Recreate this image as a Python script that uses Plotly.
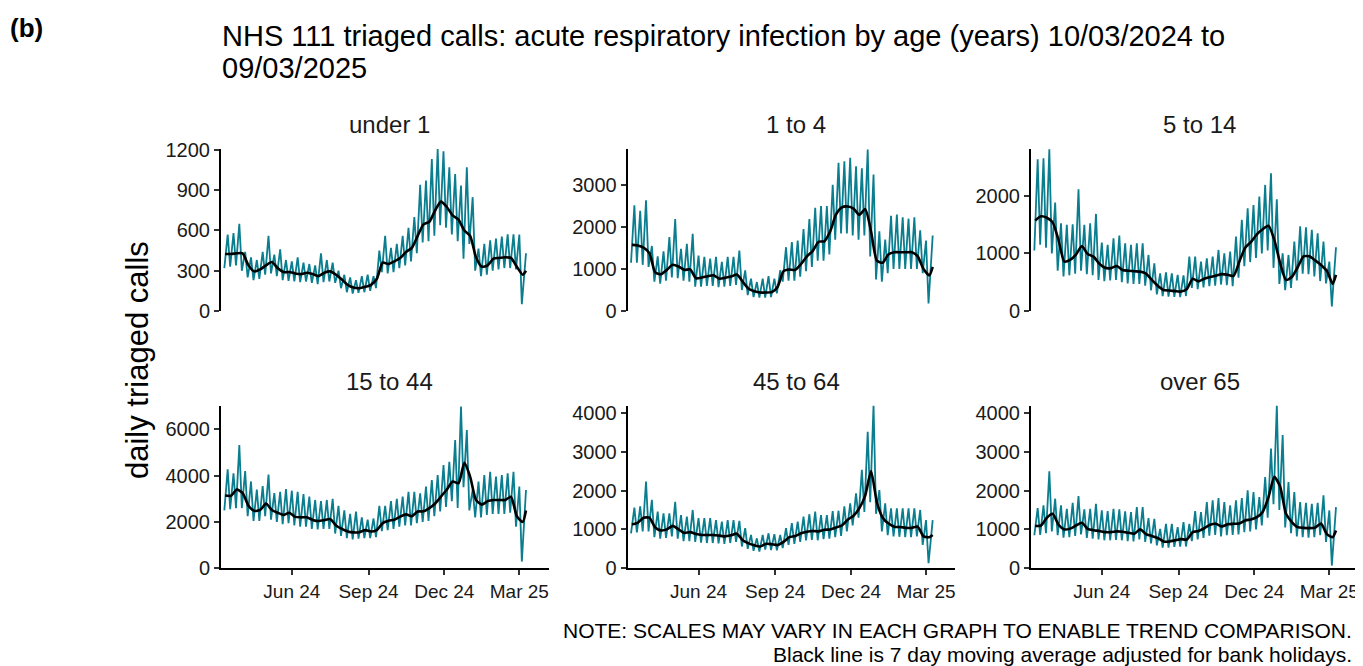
import pandas as pd
import plotly.graph_objects as go

# ---------------- data (weekly readings, week k starts on Sunday 10/03/2024 + 7k days) ----
panel_names = ["under 1", "1 to 4", "5 to 14", "15 to 44", "45 to 64", "over 65"]
first_week = "2024-03-10"
last_day = "2025-03-09"

# weekly peak (weekend) values of the daily series
under1_high = [570, 580, 650, 440, 400, 380, 440, 560, 420, 460, 380, 370, 400, 360, 350, 340, 430, 380, 360, 300,
               270, 250, 230, 260, 270, 260, 450, 560, 470, 500, 560, 620, 700, 940, 972, 1133, 1207, 1190, 1071, 1021,
               935, 1070, 848, 465, 500, 527, 540, 555, 571, 571, 570, 380]
age1_4_high = [2520, 2390, 2640, 1550, 1300, 1420, 1760, 2190, 1480, 1600, 1840, 1320, 1290, 1250, 1290, 1170, 1290, 1290, 1440, 970,
               770, 690, 770, 830, 770, 970, 1520, 1640, 1680, 1950, 2190, 2460, 2500, 2500, 3010, 3530, 3570, 3650, 3450, 3400,
               3850, 3250, 1900, 1700, 2270, 2300, 2230, 2200, 2230, 1920, 1680, 1300]
age5_14_high = [2638, 2655, 2811, 1884, 1525, 1496, 1507, 2116, 1496, 1525, 1687, 1188, 1148, 1264, 1310, 1177, 1150, 1177, 1177, 974,
                829, 655, 672, 655, 626, 620, 945, 945, 858, 916, 945, 1061, 1003, 1032, 1293, 1583, 1786, 1843, 1988, 2191,
                2394, 1942, 1003, 974, 1205, 1470, 1455, 1410, 1350, 1205, 858, 900]
age15_44_high = [4270, 4100, 5320, 4200, 3750, 3400, 3550, 4050, 3250, 3300, 3420, 3350, 3300, 3200, 3100, 2950, 2900, 2950, 3000, 2700,
                 2500, 2350, 2450, 2200, 2100, 2150, 2700, 2700, 2900, 3000, 3100, 3300, 3300, 3240, 3530, 3810, 4030, 4460, 4600, 5540,
                 6980, 5970, 3400, 3740, 4030, 4170, 3960, 4030, 4100, 4170, 3530, 3000]
age45_64_high = [1560, 1590, 2230, 1760, 1460, 1410, 1410, 1710, 1370, 1330, 1500, 1290, 1290, 1290, 1240, 1200, 1240, 1240, 1220, 1030,
                 860, 770, 860, 900, 880, 860, 1030, 1160, 1200, 1330, 1390, 1460, 1370, 1370, 1470, 1480, 1590, 1670, 1930, 2530,
                 3510, 4200, 2010, 1670, 1540, 1540, 1540, 1540, 1540, 1500, 1240, 1100]
over65_high = [1548, 1617, 2495, 1789, 1617, 1531, 1686, 1858, 1514, 1531, 1660, 1488, 1471, 1531, 1514, 1462, 1445, 1574, 1574, 1290,
               1273, 1015, 1144, 1144, 1058, 1187, 1144, 1471, 1445, 1703, 1746, 1806, 1703, 1617, 1746, 1806, 2004, 1961, 1832, 2348,
               3080, 4198, 3424, 2219, 1961, 1703, 1686, 1660, 1686, 1875, 1488, 1300]

# weekly trough (weekday) values of the daily series
under1_low = [320, 330, 340, 300, 250, 230, 240, 270, 280, 260, 230, 225, 220, 215, 220, 210, 200, 215, 220, 210,
              170, 140, 130, 135, 140, 150, 170, 290, 280, 290, 320, 340, 370, 430, 510, 520, 560, 640, 620, 570,
              520, 390, 500, 300, 260, 270, 300, 310, 320, 320, 310, 50]
age1_4_low = [1150, 1150, 1100, 1050, 700, 650, 720, 800, 780, 720, 700, 580, 580, 600, 600, 570, 580, 600, 620, 500,
              380, 330, 320, 320, 330, 420, 700, 720, 720, 820, 950, 1050, 1200, 1200, 1350, 1700, 1850, 1850, 1800, 1700,
              1800, 1300, 750, 700, 900, 1000, 1000, 1000, 1000, 1000, 900, 180]
age5_14_low = [1050, 1150, 1100, 1000, 700, 600, 620, 650, 700, 640, 620, 540, 520, 530, 540, 500, 480, 470, 470, 440,
               360, 290, 260, 250, 245, 240, 260, 400, 380, 410, 430, 440, 460, 450, 430, 580, 780, 850, 920, 1000,
               1050, 750, 470, 360, 400, 530, 650, 640, 600, 520, 480, 80]
age15_44_low = [2500, 2550, 2600, 2600, 2250, 2050, 2050, 2250, 2100, 2000, 1900, 1950, 1850, 1800, 1800, 1700, 1680, 1700, 1700, 1500,
                1400, 1300, 1250, 1280, 1300, 1300, 1350, 1600, 1650, 1700, 1800, 1850, 1850, 1950, 2000, 2050, 2250, 2450, 2650, 2900,
                2600, 3500, 2500, 2200, 2200, 2300, 2350, 2350, 2350, 2400, 1800, 290]
age45_64_low = [900, 920, 950, 950, 800, 760, 780, 820, 760, 700, 700, 680, 660, 650, 650, 640, 630, 650, 680, 560,
                500, 450, 430, 480, 470, 460, 520, 600, 630, 680, 720, 730, 720, 750, 760, 800, 830, 950, 1100, 1300,
                1450, 1700, 1400, 950, 850, 820, 810, 800, 800, 820, 600, 130]
over65_low = [850, 860, 900, 950, 850, 790, 800, 830, 870, 780, 760, 740, 720, 720, 730, 720, 700, 690, 740, 680,
              640, 590, 530, 530, 550, 560, 560, 700, 740, 780, 840, 860, 820, 850, 860, 870, 930, 950, 1000, 1100,
              1300, 1650, 1500, 1050, 900, 820, 800, 790, 800, 850, 680, 70]

# 7 day moving average (black line), read once per week
under1_avg = [425, 425, 430, 430, 340, 295, 310, 340, 365, 320, 290, 290, 280, 275, 285, 275, 260, 285, 295, 270,
              235, 195, 175, 170, 180, 195, 240, 360, 350, 370, 395, 440, 470, 560, 645, 665, 750, 815, 775, 712,
              680, 600, 560, 400, 330, 340, 390, 395, 400, 395, 330, 270]
age1_4_avg = [1575, 1560, 1510, 1380, 920, 875, 980, 1100, 1060, 980, 990, 780, 800, 830, 850, 770, 790, 820, 870, 700,
              530, 470, 440, 440, 450, 580, 950, 990, 980, 1120, 1300, 1430, 1650, 1660, 1900, 2300, 2470, 2490, 2440, 2290,
              2430, 1900, 1200, 1150, 1350, 1400, 1400, 1400, 1400, 1300, 1000, 850]
age5_14_avg = [1570, 1645, 1620, 1540, 1235, 860, 890, 980, 1130, 990, 945, 820, 750, 745, 783, 713, 700, 690, 684, 650,
               540, 440, 365, 355, 345, 338, 380, 560, 515, 560, 590, 615, 640, 630, 609, 858, 1100, 1200, 1330, 1420,
               1480, 1235, 829, 539, 590, 760, 950, 950, 880, 800, 700, 470]
age15_44_avg = [3140, 3130, 3400, 3250, 2700, 2480, 2520, 2800, 2520, 2400, 2300, 2400, 2220, 2200, 2200, 2090, 2040, 2080, 2130, 1850,
                1700, 1590, 1550, 1560, 1650, 1590, 1650, 1950, 2050, 2100, 2230, 2330, 2250, 2450, 2460, 2600, 2800, 3100, 3400, 3750,
                3670, 4550, 3950, 2950, 2750, 2900, 2950, 2950, 2950, 3090, 2250, 2000]
age45_64_avg = [1130, 1170, 1300, 1300, 1050, 975, 1000, 1090, 1000, 910, 930, 880, 857, 857, 857, 840, 820, 850, 890, 720,
                640, 590, 560, 630, 620, 600, 680, 800, 830, 900, 940, 960, 950, 990, 1000, 1050, 1100, 1250, 1350, 1550,
                1870, 2500, 1700, 1300, 1150, 1070, 1060, 1040, 1040, 1070, 820, 800]
over65_avg = [1090, 1100, 1300, 1400, 1120, 1000, 1020, 1100, 1170, 1015, 980, 960, 929, 929, 950, 940, 912, 890, 1000, 880,
              830, 780, 690, 690, 720, 750, 740, 930, 960, 1030, 1118, 1144, 1075, 1130, 1144, 1150, 1230, 1256, 1316, 1450,
              1830, 2350, 2100, 1400, 1190, 1060, 1040, 1032, 1045, 1150, 880, 800]

# value on the final day (09/03/2025)
last_day_calls = [430, 1800, 1107, 3380, 1240, 1574]
last_day_avg = [300, 1050, 626, 2500, 855, 970]

# y axis maxima and ticks per panel
y_max = [1207, 3860, 2815, 7020, 4180, 4180]
y_ticks = [[0, 300, 600, 900, 1200], [0, 1000, 2000, 3000], [0, 1000, 2000],
           [0, 2000, 4000, 6000], [0, 1000, 2000, 3000, 4000], [0, 1000, 2000, 3000, 4000]]
x_tick_dates = ["2024-06-01", "2024-09-01", "2024-12-01", "2025-03-01"]
x_tick_labels = ["Jun 24", "Sep 24", "Dec 24", "Mar 25"]

highs = [under1_high, age1_4_high, age5_14_high, age15_44_high, age45_64_high, over65_high]
lows = [under1_low, age1_4_low, age5_14_low, age15_44_low, age45_64_low, over65_low]
avgs = [under1_avg, age1_4_avg, age5_14_avg, age15_44_avg, age45_64_avg, over65_avg]

# ---------------- layout geometry (screen pixels) ----------------
W, H = 1363, 666
OFF = 8  # page body margin offset of the plot div
TEAL = "#0a7d8f"
FONT = "Liberation Sans, Arial, sans-serif"
col_px = [(221, 548.5), (627.7, 955.2), (1031, 1358.5)]
row_px = [(149, 311), (405.7, 568.3)]


def px_x(p):
    return (p - OFF) / W


def px_y(p):
    return 1 - (p - OFF) / H


week_starts = pd.date_range(first_week, periods=52, freq="7D")
low_dates = week_starts + pd.Timedelta(days=2)
high_dates = week_starts + pd.Timedelta(days=6)
avg_dates = week_starts + pd.Timedelta(days=3)
end_date = pd.Timestamp(last_day)

fig = go.Figure()
layout = {}
annotations = []

for i in range(6):
    r, c = divmod(i, 3)
    n = i + 1
    xa = "x" if n == 1 else f"x{n}"
    ya = "y" if n == 1 else f"y{n}"

    tx, ty = [], []
    for k in range(52):
        tx += [low_dates[k], high_dates[k]]
        ty += [lows[i][k], highs[i][k]]
    tx.append(end_date)
    ty.append(last_day_calls[i])
    fig.add_trace(go.Scatter(x=tx, y=ty, mode="lines", line=dict(color=TEAL, width=1.8),
                             xaxis=xa, yaxis=ya, showlegend=False, hoverinfo="skip", cliponaxis=False))
    bx = list(avg_dates) + [end_date]
    by = list(avgs[i]) + [last_day_avg[i]]
    fig.add_trace(go.Scatter(x=bx, y=by, mode="lines", line=dict(color="black", width=2.6, shape="spline",
                                                                   smoothing=0.6),
                             xaxis=xa, yaxis=ya, showlegend=False, hoverinfo="skip", cliponaxis=False))

    x0, x1 = col_px[c]
    y0, y1 = row_px[r]
    xkey = "xaxis" if n == 1 else f"xaxis{n}"
    ykey = "yaxis" if n == 1 else f"yaxis{n}"
    bottom = r == 1
    layout[xkey] = dict(
        domain=[px_x(x0), px_x(x1)], anchor=ya, type="date",
        range=["2024-03-08", "2025-04-05"],
        showgrid=False, zeroline=False,
        showline=bottom, linecolor="black", linewidth=2,
        ticks="outside" if bottom else "", ticklen=5, tickwidth=1.5, tickcolor="#333",
        tickvals=x_tick_dates if bottom else [], ticktext=x_tick_labels if bottom else [],
        showticklabels=bottom, tickfont=dict(family=FONT, size=19, color="#1a1a1a"),
    )
    layout[ykey] = dict(
        domain=[px_y(y1), px_y(y0)], anchor=xa, range=[0, y_max[i]],
        showgrid=False, zeroline=False, showline=True, linecolor="black", linewidth=2,
        ticks="outside", ticklen=5, tickwidth=1.5, tickcolor="#333",
        tickvals=y_ticks[i], tickfont=dict(family=FONT, size=20, color="#1a1a1a"),
    )
    annotations.append(dict(text=panel_names[i], x=px_x((x0 + x1) / 2 + 5), y=px_y(y0 - 24),
                            xref="paper", yref="paper", showarrow=False, xanchor="center", yanchor="middle",
                            font=dict(family=FONT, size=24, color="#1a1a1a")))

annotations += [
    dict(text="<b>(b)</b>", x=px_x(8), y=px_y(28), xref="paper", yref="paper", showarrow=False,
         xanchor="left", yanchor="middle", font=dict(family=FONT, size=26, color="black")),
    dict(text="NHS 111 triaged calls: acute respiratory infection by age (years) 10/03/2024 to",
         x=px_x(220), y=px_y(36), xref="paper", yref="paper", showarrow=False, align="left",
         xanchor="left", yanchor="middle", font=dict(family=FONT, size=29, color="black")),
    dict(text="09/03/2025",
         x=px_x(220), y=px_y(68), xref="paper", yref="paper", showarrow=False, align="left",
         xanchor="left", yanchor="middle", font=dict(family=FONT, size=29, color="black")),
    dict(text="daily triaged calls", x=px_x(137), y=px_y(360), xref="paper", yref="paper", showarrow=False,
         textangle=-90, xanchor="center", yanchor="middle", font=dict(family=FONT, size=31, color="black")),
    dict(text="NOTE: SCALES MAY VARY IN EACH GRAPH TO ENABLE TREND COMPARISON.", x=px_x(1354), y=px_y(630),
         xref="paper", yref="paper", showarrow=False, xanchor="right", yanchor="middle",
         font=dict(family=FONT, size=21, color="black")),
    dict(text="Black line is 7 day moving average adjusted for bank holidays.", x=px_x(1354), y=px_y(654),
         xref="paper", yref="paper", showarrow=False, xanchor="right", yanchor="middle",
         font=dict(family=FONT, size=21, color="black")),
]

fig.update_layout(width=W, height=H, margin=dict(l=0, r=0, t=0, b=0, autoexpand=False),
                  paper_bgcolor="white", plot_bgcolor="white",
                  annotations=annotations, **layout)

fig.write_html("out.html")
